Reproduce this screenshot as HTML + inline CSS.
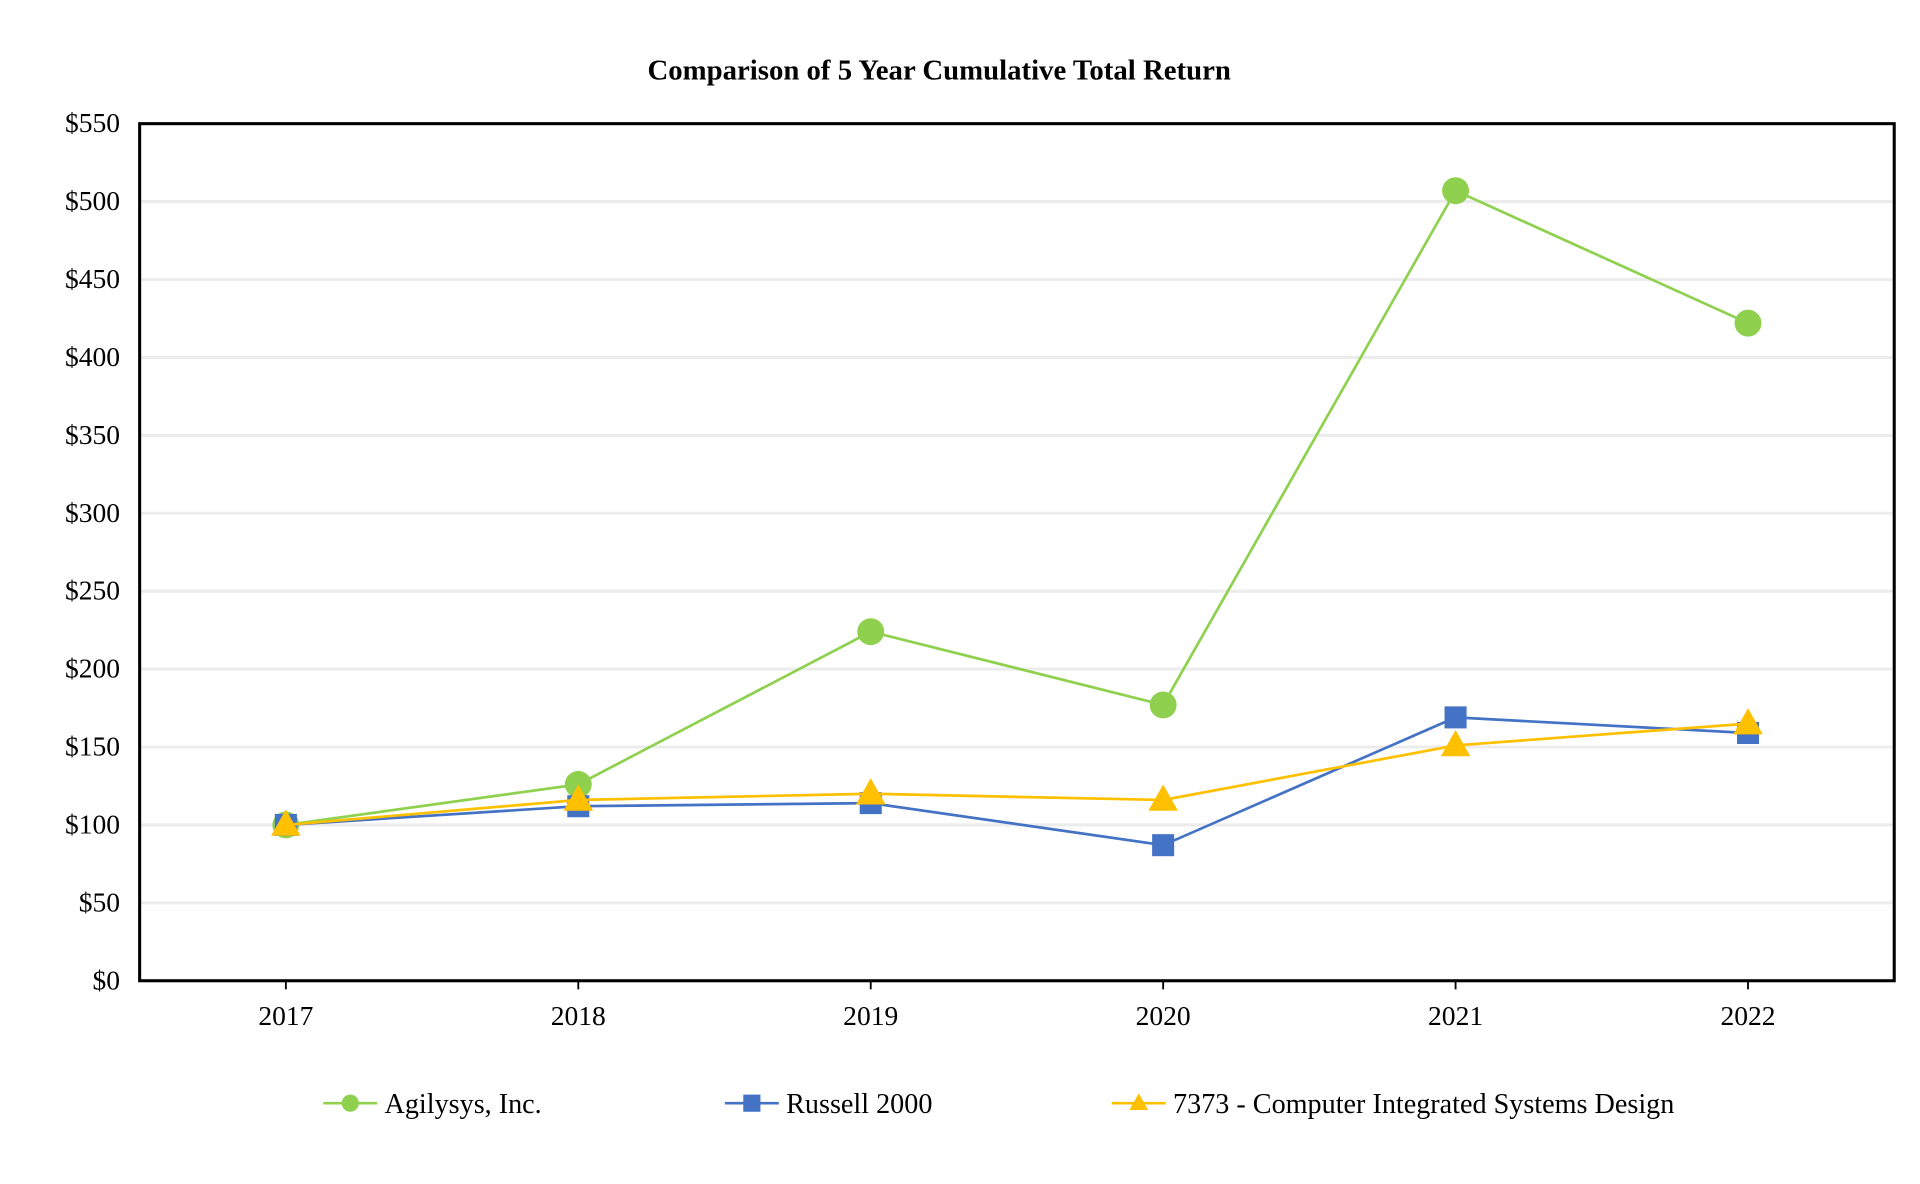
<!DOCTYPE html>
<html><head><meta charset="utf-8"><style>
html,body{margin:0;padding:0;background:#fff;}
svg{display:block;font-family:"Liberation Serif",serif;}
</style></head><body>
<svg id="chart" width="1920" height="1184" viewBox="0 0 1568 967" xmlns="http://www.w3.org/2000/svg">
<text x="767" y="65" text-anchor="middle" font-size="23.5" font-weight="bold">Comparison of 5 Year Cumulative Total Return</text>
<g id="grid"></g><g id="axes"></g><g id="series"></g><g id="legend"></g>
</svg>
<script>
const categories=["2017","2018","2019","2020","2021","2022"];
const agilysys=[100,126,224,177,507,422];
const russell=[100,112,114,87,169,159];
const sic7373=[100,116,120,116,151,165];
const yTicks=[0,50,100,150,200,250,300,350,400,450,500,550];
const yTickLabels=["$0","$50","$100","$150","$200","$250","$300","$350","$400","$450","$500","$550"];
const NS="http://www.w3.org/2000/svg";
const L=114,R=1547,T=101,B=801,yMax=550;
function xs(i){return L+(R-L)/categories.length*(i+0.5);}
function ys(v){return B-(B-T)*v/yMax;}
function mk(tag,attrs,parent){const e=document.createElementNS(NS,tag);for(const k in attrs)e.setAttribute(k,attrs[k]);parent.appendChild(e);return e;}
const svg=document.getElementById('chart');
const grid=document.getElementById('grid'),axes=document.getElementById('axes'),ser=document.getElementById('series'),leg=document.getElementById('legend');
yTicks.forEach((v,i)=>{
 if(v>0&&v<yMax){const g=mk('line',{x1:L,x2:R,y1:ys(v),y2:ys(v),stroke:'#ececec','stroke-width':2.5},grid);
 
 }
 const t=mk('text',{x:98,y:ys(v)+7,'text-anchor':'end','font-size':22.5},axes);t.textContent=yTickLabels[i];
 
 
});
const frame=mk('rect',{x:L,y:T,width:R-L,height:B-T,fill:'none',stroke:'#000','stroke-width':2.5},axes);


categories.forEach((c,i)=>{
 const tk=mk('line',{x1:xs(i),x2:xs(i),y1:B,y2:B+7,stroke:'#000','stroke-width':1.5},axes);
 
 
 const t=mk('text',{x:xs(i),y:B+36,'text-anchor':'middle','font-size':22.5},axes);t.textContent=c;
 
 
});
function marker(type,x,y,color,parent,s){
 let e;
 if(type==='circle')e=mk('circle',{cx:x,cy:y,r:s,fill:color},parent);
 else if(type==='square')e=mk('rect',{x:x-s,y:y-s,width:2*s,height:2*s,fill:color},parent);
 else e=mk('polygon',{points:`${x},${y-s*1.15} ${x-s*1.1},${y+s*0.8} ${x+s*1.1},${y+s*0.8}`,fill:color},parent);
 return e;
}
const series=[
 {name:"Agilysys, Inc.",data:agilysys,color:"#8fd14f",m:"circle",s:11,lx:264,key:'agilysys'},
 {name:"Russell 2000",data:russell,color:"#4472c4",m:"square",s:9,lx:592,key:'russell-2000'},
 {name:"7373 - Computer Integrated Systems Design",data:sic7373,color:"#ffc000",m:"triangle",s:11,lx:908,key:'sic-7373'}
];
series.forEach(sr=>{
 const g=mk('g',{},ser);
 
 
 const p=mk('polyline',{points:sr.data.map((v,i)=>xs(i)+','+ys(v)).join(' '),fill:'none',stroke:sr.color,'stroke-width':2.2},g);
 
 
 sr.data.forEach((v,i)=>{const e=marker(sr.m,xs(i),ys(v),sr.color,g,sr.s);
  
  });
 const lg=mk('g',{},leg);
 
 
 mk('line',{x1:sr.lx,x2:sr.lx+44,y1:901,y2:901,stroke:sr.color,'stroke-width':2.2},lg);
 marker(sr.m,sr.lx+22,901,sr.color,lg,7);
 const t=mk('text',{x:sr.lx+50,y:909,'font-size':23},lg);t.textContent=sr.name;
});
</script>
</body></html>
